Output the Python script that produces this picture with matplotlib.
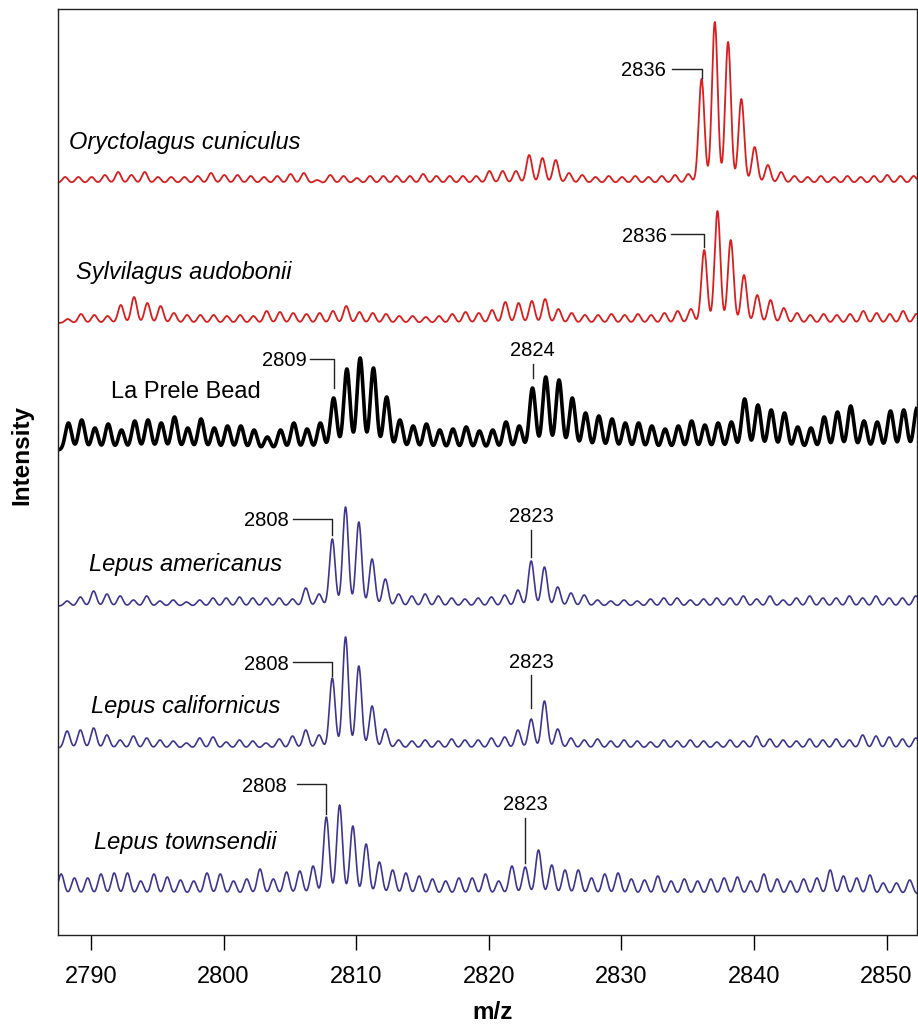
import numpy as np
import matplotlib
matplotlib.use('Agg')
import matplotlib.pyplot as plt

plt.rcParams['font.family'] = ['Liberation Sans', 'DejaVu Sans']

# peak / ripple heights at 1 Da steps, first one at m/z 2788
mz_first = 2788

ory_h = [6, 6, 6, 8, 11, 8, 11, 6, 6, 6,
         7, 10, 8, 8, 7, 6, 7, 9, 10, 3,
         8, 7, 5, 7, 7, 7, 7, 9, 7, 7,
         7, 7, 12, 12, 12, 28, 25, 23, 10, 8,
         6, 7, 6, 7, 6, 7, 8, 9, 104, 161,
         141, 84, 36, 18, 11, 7, 6, 7, 6, 7,
         6, 7, 8, 7, 7]
syl_h = [4, 9, 8, 7, 18, 26, 20, 17, 10, 8,
         8, 8, 7, 8, 7, 12, 11, 10, 9, 10,
         12, 17, 11, 10, 9, 7, 7, 6, 7, 9,
         11, 10, 13, 21, 20, 22, 24, 14, 10, 8,
         8, 9, 8, 9, 8, 10, 12, 14, 73, 112,
         83, 48, 28, 23, 15, 10, 8, 9, 8, 9,
         12, 10, 9, 12, 9]
bead_h = [27, 30, 22, 26, 20, 29, 30, 27, 33, 22,
          31, 22, 24, 24, 20, 13, 20, 27, 21, 27,
          52, 81, 92, 82, 53, 30, 24, 26, 20, 21,
          23, 19, 20, 28, 24, 62, 73, 70, 52, 37,
          34, 31, 27, 27, 24, 21, 24, 29, 25, 27,
          28, 51, 45, 40, 37, 23, 22, 33, 38, 44,
          29, 28, 39, 40, 42]
ame_h = [5, 9, 15, 12, 10, 6, 10, 5, 6, 4,
         6, 8, 8, 9, 8, 8, 8, 7, 18, 12,
         67, 99, 84, 47, 27, 12, 10, 12, 10, 8,
         7, 8, 9, 11, 16, 45, 39, 19, 13, 11,
         6, 5, 6, 5, 7, 8, 8, 6, 7, 8,
         8, 10, 7, 10, 6, 8, 10, 8, 8, 10,
         8, 10, 8, 8, 10]
cal_h = [17, 18, 20, 13, 8, 12, 10, 8, 7, 5,
         10, 11, 6, 8, 7, 5, 9, 12, 18, 13,
         70, 111, 82, 42, 19, 8, 7, 8, 7, 9,
         8, 8, 10, 11, 18, 29, 47, 19, 10, 8,
         9, 7, 8, 7, 6, 8, 7, 8, 7, 6,
         8, 7, 12, 9, 8, 7, 9, 8, 9, 8,
         13, 12, 11, 9, 10]
tow_h = [20, 16, 16, 20, 21, 21, 13, 20, 17, 14,
         13, 21, 20, 13, 15, 25, 15, 22, 23, 28,
         77, 89, 68, 50, 32, 24, 21, 18, 15, 13,
         16, 16, 20, 13, 28, 27, 44, 29, 24, 24,
         16, 20, 21, 15, 14, 18, 13, 15, 13, 15,
         16, 17, 13, 20, 15, 13, 15, 16, 24, 18,
         16, 19, 11, 11, 14]

names = ['Oryctolagus cuniculus', 'Sylvilagus audobonii', 'La Prele Bead',
         'Lepus americanus', 'Lepus californicus', 'Lepus townsendii']
heights = [ory_h, syl_h, bead_h, ame_h, cal_h, tow_h]
shifts = [0.05, 0.25, 0.3, 0.2, 0.2, -0.25]

RED = '#d81e1e'
BLUE = '#3d3590'
colors = [RED, RED, 'black', BLUE, BLUE, BLUE]
widths = [1.3, 1.3, 2.6, 1.2, 1.2, 1.2]
sigmas = [0.215, 0.215, 0.235, 0.215, 0.215, 0.215]
baselines = [752, 612, 485, 329, 187, 41]
italic = [True, True, False, True, True, True]
name_pos = [(2788.35, 792), (2788.9, 662), (2791.5, 543),
            (2789.85, 370), (2790.0, 228), (2790.2, 92)]

# (trace, peak index m/z, label, kind, gap, length, arm, text gap)
annots = [(0, 2836, '2836', 'elbow', 1, 9, 2.26, 0.45),
          (1, 2836, '2836', 'elbow', 3, 13, 2.5, 0.3),
          (2, 2808, '2809', 'elbow', 10, 29, 1.8, 0.25),
          (2, 2823, '2824', 'up', 10, 14, 0, 0),
          (3, 2808, '2808', 'elbow', 4, 16, 3.0, 0.25),
          (3, 2823, '2823', 'up', 4, 27, 0, 0),
          (4, 2808, '2808', 'elbow', 2, 14, 3.0, 0.3),
          (4, 2823, '2823', 'up', 11, 33, 0, 0),
          (5, 2808, '2808', 'elbow', 3, 30, 2.2, 0.8),
          (5, 2823, '2823', 'up', 4, 45, 0, 0)]

mz = np.linspace(2786.5, 2853.5, 8000)


def spectrum(hs, shift, sigma):
    y = np.zeros_like(mz)
    for k, h in enumerate(hs):
        c = mz_first + k + shift
        y += h * np.exp(-0.5 * ((mz - c) / sigma) ** 2)
    return y


fig = plt.figure(figsize=(9.18, 10.27), dpi=100)
ax = fig.add_axes([58.5 / 918, 92 / 1027, 858 / 918, 926 / 1027])

for i in range(6):
    y = baselines[i] + spectrum(heights[i], shifts[i], sigmas[i])
    ax.plot(mz, y, color=colors[i], lw=widths[i], solid_joinstyle='round')
    ax.text(name_pos[i][0], name_pos[i][1], names[i], fontsize=17,
            style='italic' if italic[i] else 'normal', ha='left', va='center')

for t, p, lab, kind, gap, length, arm, tg in annots:
    xp = p + shifts[t]
    top = baselines[t] + heights[t][p - mz_first]
    y0 = top + gap
    y1 = y0 + length
    if kind == 'elbow':
        ax.plot([xp, xp, xp - arm], [y0, y1, y1], color='#222222', lw=1.0)
        ax.text(xp - arm - tg, y1 - 2, lab, fontsize=14.5, ha='right', va='center')
    else:
        ax.plot([xp, xp], [y0, y1], color='#222222', lw=1.0)
        ax.text(xp, y1 + 13, lab, fontsize=14.5, ha='center', va='center')

ax.set_xlim(2787.55, 2852.26)
ax.set_ylim(0, 926)
ax.set_yticks([])
ax.set_xticks([2790, 2800, 2810, 2820, 2830, 2840, 2850])
ax.tick_params(axis='x', direction='out', length=11, width=1.0, pad=11,
               labelsize=17)
for lbl in ax.get_xticklabels():
    lbl.set_family(['Liberation Sans Narrow', 'Liberation Sans'])
for s in ax.spines.values():
    s.set_linewidth(1.0)
    s.set_color('#222222')

ax.set_xlabel('m/z', fontsize=17.5, fontweight='bold', va='center')
ax.xaxis.set_label_coords(0.506, -0.084)
ax.set_ylabel('Intensity', fontsize=17.5, fontweight='bold', va='center')
ax.yaxis.set_label_coords(-0.0425, 0.518)

fig.savefig('out.png', dpi=100)
